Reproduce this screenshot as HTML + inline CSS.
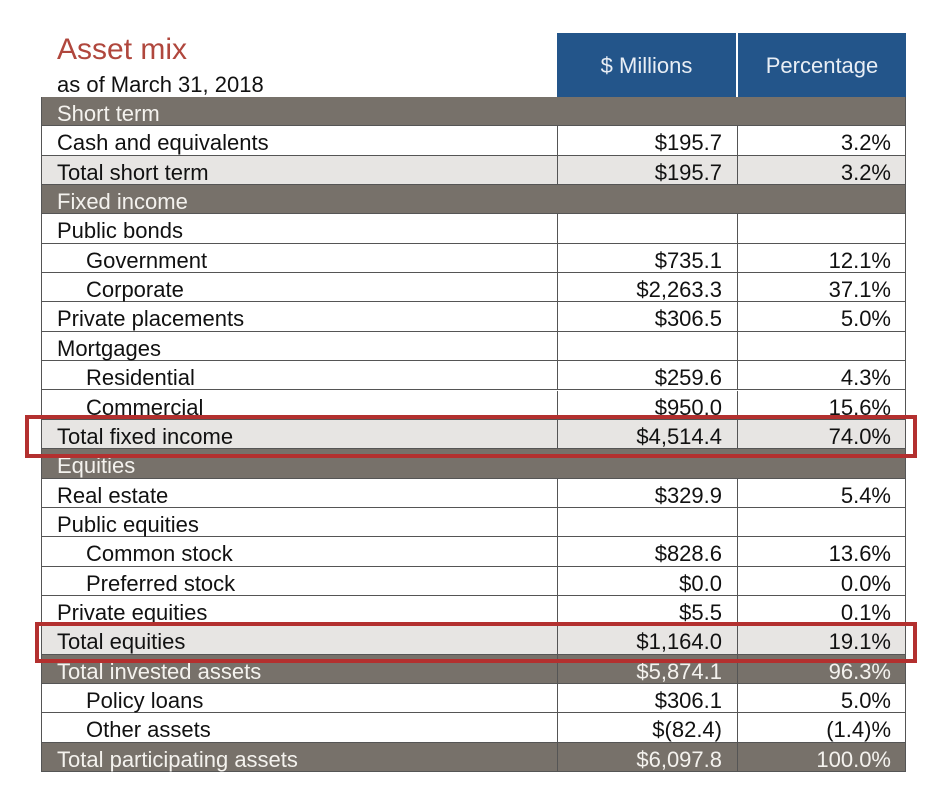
<!DOCTYPE html>
<html><head><meta charset="utf-8"><style>
body{margin:0;width:940px;height:806px;background:#fff;font-family:"Liberation Sans",Arial,sans-serif;position:relative;overflow:hidden}
.a{position:absolute}
.row{position:absolute;left:41px;width:865px;height:29.35px;box-sizing:border-box;border-bottom:1px solid #555;font-size:22px;color:#111}
.row div{position:absolute;top:2px;height:100%;line-height:29px;white-space:nowrap}
.l{left:16px}.l.ind{left:45px}
.v{right:184px;text-align:right}.p{right:15px;text-align:right}
.c1{position:absolute;left:516px;top:0;bottom:0;border-left:1px solid #555}
.c2{position:absolute;left:696px;top:0;bottom:0;border-left:1px solid #555}
.sec{background:#77716a;color:#f4f2ee}
.tot{background:#e7e5e3}
.box{position:absolute;border:4px solid #b3302f;box-sizing:border-box}
</style></head><body>
<div class="a" style="left:57px;top:33px;font-size:30px;color:#b0473d">Asset mix</div>
<div class="a" style="left:57px;top:72px;font-size:22px;color:#111">as of March 31, 2018</div>
<div class="a" style="left:557px;top:33px;width:179px;height:64px;background:#23558a;color:#e8eef5;font-size:22px;text-align:center;line-height:66px">$ Millions</div>
<div class="a" style="left:738px;top:33px;width:168px;height:64px;background:#23558a;color:#e8eef5;font-size:22px;text-align:center;line-height:66px">Percentage</div>
<div id="tbl" style="position:absolute;left:0;top:0;width:940px;height:806px"></div>
<div class="a" style="left:41px;top:97px;width:0;height:675px;border-left:1px solid #555"></div>
<div class="a" style="left:905px;top:97px;width:0;height:675px;border-left:1px solid #555"></div>
<div class="box" style="left:25px;top:415px;width:892px;height:43px"></div>
<div class="box" style="left:35px;top:622px;width:882px;height:41px"></div>
<script>
const labels=["Short term","Cash and equivalents","Total short term","Fixed income","Public bonds","Government","Corporate","Private placements","Mortgages","Residential","Commercial","Total fixed income","Equities","Real estate","Public equities","Common stock","Preferred stock","Private equities","Total equities","Total invested assets","Policy loans","Other assets","Total participating assets"];
const values=["","$195.7","$195.7","","","$735.1","$2,263.3","$306.5","","$259.6","$950.0","$4,514.4","","$329.9","","$828.6","$0.0","$5.5","$1,164.0","$5,874.1","$306.1","$(82.4)","$6,097.8"];
const pcts=["","3.2%","3.2%","","","12.1%","37.1%","5.0%","","4.3%","15.6%","74.0%","","5.4%","","13.6%","0.0%","0.1%","19.1%","96.3%","5.0%","(1.4)%","100.0%"];
const kinds=["sec","n","tot","sec","n","i","i","n","n","i","i","tot","sec","n","n","i","i","n","tot","sec","i","i","sec"];
const tbl=document.getElementById('tbl');
labels.forEach((lab,k)=>{
const r=document.createElement('div');


r.className='row'+(kinds[k]==='sec'?' sec':'')+(kinds[k]==='tot'?' tot':'');
r.style.top=(97+k*29.35)+'px';
const secHeader=kinds[k]==='sec'&&values[k]==='';
r.innerHTML='<div class="l'+(kinds[k]==='i'?' ind':'')+'">'+lab+'</div>'+(secHeader?'':'<span class="c1"></span><span class="c2"></span><div class="v">'+values[k]+'</div><div class="p">'+pcts[k]+'</div>');
tbl.appendChild(r);
});
</script>
</body></html>
